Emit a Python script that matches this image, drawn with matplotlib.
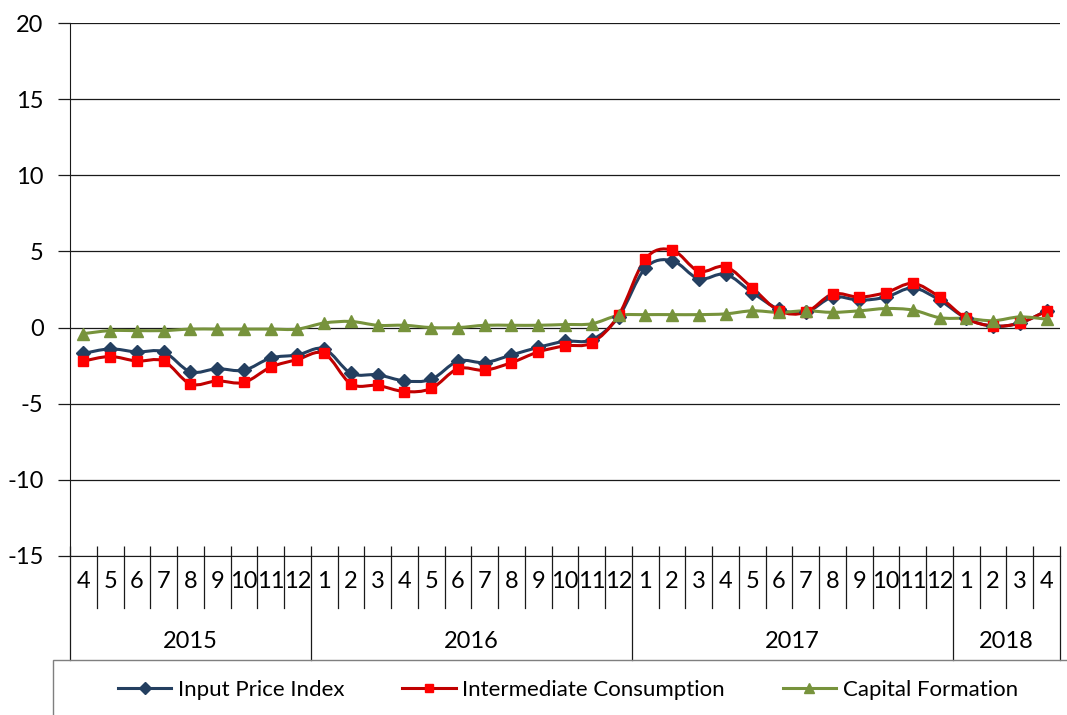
import matplotlib
matplotlib.use("Agg")
import matplotlib.pyplot as plt
from matplotlib.path import Path
from matplotlib.patches import PathPatch, Rectangle
from matplotlib.lines import Line2D
import numpy as np

plt.rcParams['font.family'] = ['Lato', 'DejaVu Sans']

years = ["2015", "2016", "2017", "2018"]
months_per_year = [list(range(4, 13)), list(range(1, 13)), list(range(1, 13)), list(range(1, 5))]
month_labels = [str(m) for ms in months_per_year for m in ms]

input_price = [-1.7, -1.4, -1.6, -1.6, -2.9, -2.7, -2.8, -2.0, -1.8,
               -1.4, -3.0, -3.1, -3.5, -3.4, -2.2, -2.3, -1.8, -1.3, -0.9, -0.8, 0.7,
               3.9, 4.4, 3.2, 3.5, 2.3, 1.2, 1.0, 2.0, 1.8, 2.0, 2.6, 1.8,
               0.6, 0.1, 0.3, 1.1]
intermediate = [-2.2, -1.9, -2.2, -2.2, -3.7, -3.5, -3.6, -2.6, -2.1,
                -1.7, -3.7, -3.8, -4.2, -4.0, -2.7, -2.8, -2.3, -1.6, -1.2, -1.0, 0.8,
                4.5, 5.1, 3.7, 4.0, 2.6, 1.1, 1.0, 2.2, 2.0, 2.3, 2.9, 2.0,
                0.6, 0.1, 0.3, 1.1]
capital = [-0.4, -0.2, -0.2, -0.2, -0.1, -0.1, -0.1, -0.1, -0.1,
           0.3, 0.4, 0.15, 0.15, 0.0, 0.0, 0.15, 0.15, 0.15, 0.2, 0.25, 0.8,
           0.85, 0.85, 0.85, 0.9, 1.1, 1.0, 1.1, 1.0, 1.1, 1.25, 1.15, 0.65,
           0.6, 0.45, 0.7, 0.55]
series_names = ["Input Price Index", "Intermediate Consumption", "Capital Formation"]

W, H = 1067, 715
fig = plt.figure(figsize=(W / 100, H / 100), dpi=100)
L, R, T, B = 70, 1060, 23, 556
ax = fig.add_axes([L / W, 1 - B / H, (R - L) / W, (B - T) / H])

n = len(month_labels)
x = np.arange(n)


def smooth_path(xs, ys):
    pts = np.column_stack([xs, ys]).astype(float)
    verts = [pts[0]]
    codes = [Path.MOVETO]
    for i in range(len(pts) - 1):
        p0 = pts[i - 1] if i > 0 else pts[i]
        p1 = pts[i]
        p2 = pts[i + 1]
        p3 = pts[i + 2] if i + 2 < len(pts) else pts[i + 1]
        c1 = p1 + (p2 - p0) / 6.0
        c2 = p2 - (p3 - p1) / 6.0
        verts += [c1, c2, p2]
        codes += [Path.CURVE4] * 3
    return Path(verts, codes)


styles = [
    dict(line='#243F60', mfc='#243F60', mec='#243F60', marker='D', ms=7),
    dict(line='#C00000', mfc='#FF0000', mec='#FF0000', marker='s', ms=7),
    dict(line='#77933C', mfc='#77933C', mec='#77933C', marker='^', ms=8),
]
handles = []
for vals, st, name in zip([input_price, intermediate, capital], styles, series_names):
    patch = PathPatch(smooth_path(x, vals), facecolor='none', edgecolor=st['line'], lw=2.2, zorder=3)
    ax.add_patch(patch)
    ax.plot(x, vals, linestyle='none', marker=st['marker'], ms=st['ms'],
            mfc=st['mfc'], mec=st['mec'], zorder=4)
    handles.append(Line2D([], [], color=st['line'], lw=2.2, marker=st['marker'],
                          ms=st['ms'] - 1, mfc=st['mfc'], mec=st['mec'], label=name))

ax.set_xlim(-0.5, n - 0.5)
ax.set_ylim(-15, 20)
ax.set_yticks(np.arange(-15, 21, 5))
ax.set_yticklabels([str(v) for v in range(-15, 21, 5)], fontsize=17)
ax.yaxis.grid(True, color='#1a1a1a', lw=0.9)
ax.set_axisbelow(True)
for s in ['top', 'right']:
    ax.spines[s].set_visible(False)
ax.spines['left'].set_color('#1a1a1a')
ax.spines['bottom'].set_color('#1a1a1a')
ax.tick_params(axis='y', direction='out', length=9, width=0.9, color='#1a1a1a', pad=10)
ax.set_xticks(np.arange(-0.5, n, 1.0))
ax.set_xticklabels([])
ax.tick_params(axis='x', direction='in', length=7, width=0.9, color='#1a1a1a')

# category axis below
trans = ax.get_xaxis_transform()
ah = (B - T)
m_y = -(581 - B) / ah
sep_short = -(608 - B) / ah
sep_long = -(660 - B) / ah
y_lab = -(641 - B) / ah
for i, lab in enumerate(month_labels):
    ax.text(i, m_y, lab, transform=trans, ha='center', va='center', fontsize=17, clip_on=False)
boundaries = [-0.5]
acc = -0.5
for ms in months_per_year:
    acc += len(ms)
    boundaries.append(acc)
for b in np.arange(-0.5, n, 1.0):
    bottom = sep_long if any(abs(b - bb) < 1e-9 for bb in boundaries) else sep_short
    ax.add_line(Line2D([b, b], [0, bottom], transform=trans, color='#1a1a1a', lw=0.9, clip_on=False))
for yr, a, bnd in zip(years, boundaries[:-1], boundaries[1:]):
    ax.text((a + bnd) / 2, y_lab, yr, transform=trans, ha='center', va='center', fontsize=17, clip_on=False)

# legend frame
fig.patches.append(Rectangle((53 / W, -0.05), 1.1, (H - 660) / H + 0.05, transform=fig.transFigure,
                             facecolor='none', edgecolor='#7f7f7f', lw=1.0))
fig.legend(handles=handles, loc='center', bbox_to_anchor=(568 / W, 1 - 690 / H), ncol=3,
           frameon=False, fontsize=16, handlelength=2.4, columnspacing=2.6, handletextpad=0.3)

fig.savefig('out.png', dpi=100)
